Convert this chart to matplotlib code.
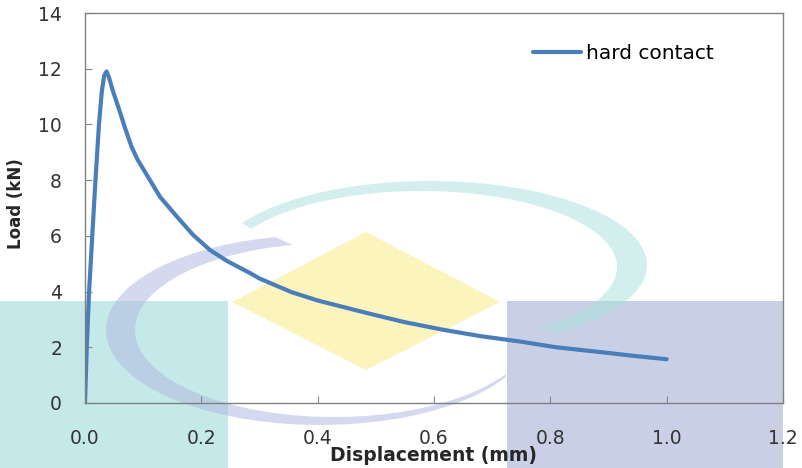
import numpy as np
import matplotlib
matplotlib.use('Agg')
import matplotlib.pyplot as plt
from matplotlib.patches import Polygon, Rectangle

# load-displacement curve
disp = [0.0, 0.003, 0.007, 0.0125, 0.018, 0.024, 0.029, 0.033, 0.037, 0.041,
        0.048, 0.060, 0.070, 0.080, 0.090, 0.103, 0.129, 0.158, 0.186, 0.215,
        0.244, 0.284, 0.30, 0.355, 0.40, 0.4865, 0.55, 0.618, 0.68, 0.75,
        0.81, 0.881, 0.94, 1.0]
load = [0.0, 2.0, 4.0, 6.0, 8.0, 10.0, 11.2, 11.75, 11.9, 11.7,
        11.2, 10.45, 9.8, 9.2, 8.75, 8.3, 7.40, 6.69, 6.03, 5.49,
        5.10, 4.66, 4.47, 3.98, 3.68, 3.22, 2.9, 2.62, 2.4, 2.2,
        2.0, 1.84, 1.7, 1.57]
series_label = 'hard contact'
xticks = [0.0, 0.2, 0.4, 0.6, 0.8, 1.0, 1.2]
yticks = [0, 2, 4, 6, 8, 10, 12, 14]

W, H = 803, 468
fig = plt.figure(figsize=(W / 100, H / 100), dpi=100)
fig.patch.set_facecolor('white')


def px(x, y):
    # pixel (y down) -> figure fraction
    return (x / W, 1 - y / H)


def crescent(c_out, ab_out, c_in, ab_in, t0, t1, color, alpha):
    t = np.radians(np.linspace(t0, t1, 120))
    outer = [px(c_out[0] + ab_out[0] * np.cos(a), c_out[1] + ab_out[1] * np.sin(a)) for a in t]
    inner = [px(c_in[0] + ab_in[0] * np.cos(a), c_in[1] + ab_in[1] * np.sin(a)) for a in t[::-1]]
    fig.patches.append(Polygon(outer + inner, closed=True, transform=fig.transFigure,
                               facecolor=color, edgecolor='none', alpha=alpha, zorder=-1))


# background watermark
fig.patches.append(Rectangle(px(0, H), 228 / W, (H - 301) / H, transform=fig.transFigure,
                             facecolor='#c4e9e8', edgecolor='none', zorder=-2))
fig.patches.append(Rectangle(px(507, H), (783 - 507) / W, (H - 301) / H, transform=fig.transFigure,
                             facecolor='#c9d0e5', edgecolor='none', zorder=-2))
fig.patches.append(Polygon([px(366, 232), px(500, 302), px(366, 370), px(232, 302)], closed=True,
                           transform=fig.transFigure, facecolor='#fcf4bd', edgecolor='none', zorder=-1))
crescent((430, 265), (217, 84), (421, 267), (196, 76), -150, 54, '#a9e0dd', 0.5)
crescent((320, 330), (214, 95), (334, 330), (199, 87), 30, 258, '#b3bbe2', 0.55)

ax = fig.add_axes([85 / W, 1 - 403 / H, (783 - 85) / W, (403 - 13) / H])
ax.set_facecolor('none')
ax.plot(disp, load, color='#4a7ebb', linewidth=3, label=series_label, solid_capstyle='round')

ax.set_xlim(0, 1.2)
ax.set_ylim(0, 14)
ax.set_xticks(xticks)
ax.set_yticks(yticks)
ax.set_xticklabels(['%.1f' % v for v in xticks])
ax.tick_params(direction='in', length=5, color='#888888', labelsize=13.5,
               labelcolor='#333333')
ax.tick_params(axis='x', pad=18.5)
ax.tick_params(axis='y', pad=16.5)
for s in ax.spines.values():
    s.set_color('#808080')
    s.set_linewidth(1)

ax.set_xlabel('Displacement (mm)', fontsize=13.5, fontweight='bold', color='#262626')
ax.xaxis.set_label_coords(0.5, -0.11)
ax.set_ylabel('Load (kN)', fontsize=12, fontweight='bold', color='#262626')
ax.yaxis.set_label_coords(-0.086, 0.51)

leg = ax.legend(loc='center left', bbox_to_anchor=(0.63, 0.895), frameon=False,
                prop={'size': 14.5}, handlelength=2.4, handletextpad=0.25,
                borderaxespad=0)

fig.savefig('out.png', dpi=100)
